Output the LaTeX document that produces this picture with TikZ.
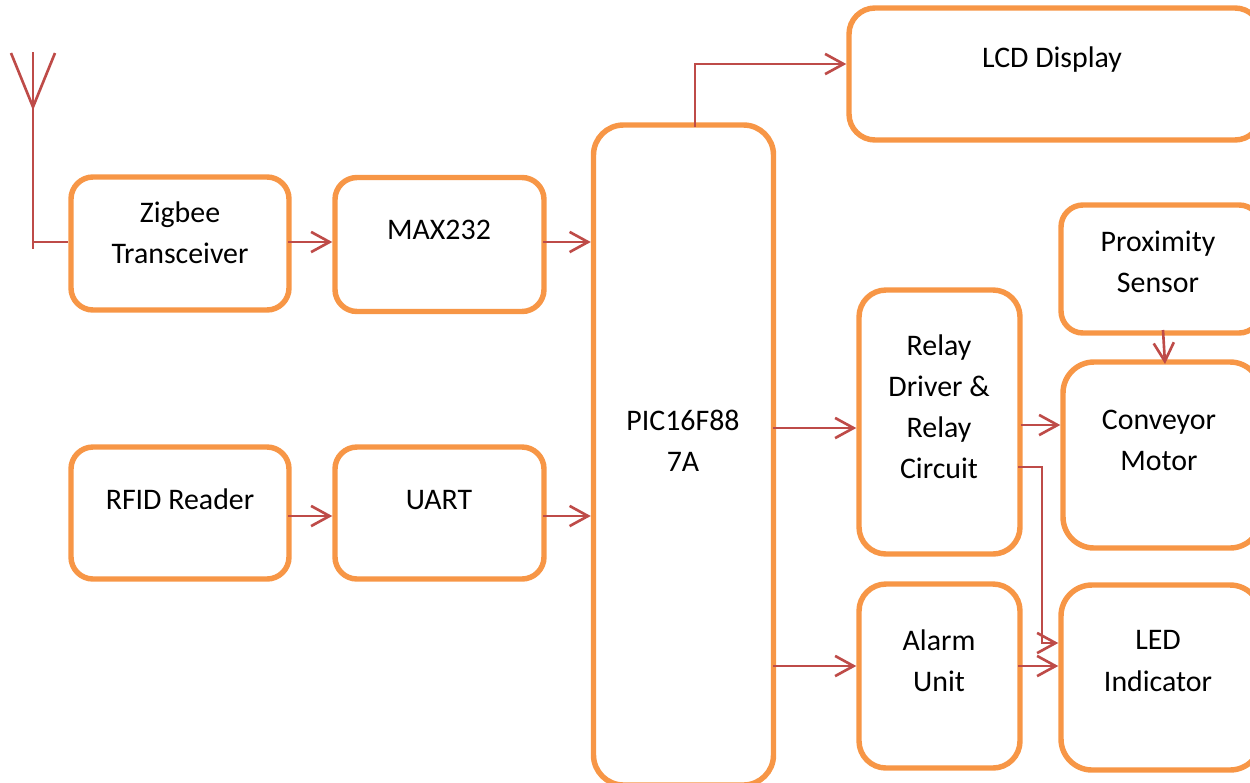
\documentclass[tikz,border=0pt]{standalone}
\usepackage{fontspec}
\setmainfont{Carlito}
\usetikzlibrary{arrows.meta}
\definecolor{boxorange}{HTML}{F79646}
\definecolor{linkred}{HTML}{BE4B48}
\tikzset{
  blockbox/.style n args={3}{draw=boxorange, line width=3.1pt, fill=white,
    minimum width=#1*0.02cm, minimum height=#2*0.02cm, rounded corners=#3*0.02cm},
  blocktext/.style={align=center, font=\fontsize{17}{23.4}\selectfont, text=black, inner sep=0pt},
  link/.style={draw=linkred, line width=1.5pt, -{Straight Barb[length=10.5pt,width=11.5pt]}},
  wire/.style={draw=linkred, line width=1.5pt}
}
\begin{document}
\begin{tikzpicture}[x=0.02cm,y=-0.02cm]
            \clip (0,0) rectangle (1250,782);
            % boxes
            \node[blockbox={218}{133}{22}] (zigbee) at (180,243.5) {};
            \node[blockbox={209}{134}{22}] (max) at (439.5,244.5) {};
            \node[blockbox={218}{132}{22}] (rfid) at (180,513) {};
            \node[blockbox={209}{132}{22}] (uart) at (439.5,513) {};
            \node[blockbox={180}{660}{30}] (pic) at (683.5,455) {};
            \node[blockbox={412}{132}{26}] (lcd) at (1055,74) {};
            \node[blockbox={200}{128}{22}] (prox) at (1161,269) {};
            \node[blockbox={161}{264}{27}] (relay) at (939.5,422) {};
            \node[blockbox={198}{186}{31}] (motor) at (1162,455) {};
            \node[blockbox={161}{184}{27}] (alarm) at (939.5,676) {};
            \node[blockbox={200}{185}{31}] (led) at (1161,677.5) {};
            % labels
            \node[blocktext] (zigbeetext) at (180,233) {Zigbee\\Transceiver};
            \node[blocktext] (maxtext) at (439,230) {MAX232};
            \node[blocktext] (rfidtext) at (180,499) {RFID Reader};
            \node[blocktext] (uarttext) at (439,500) {UART};
            \node[blocktext] (pictext) at (683,441) {PIC16F88\\7A};
            \node[blocktext] (lcdtext) at (1052,60) {LCD Display};
            \node[blocktext] (proxtext) at (1158,262) {Proximity\\Sensor};
            \node[blocktext] (relaytext) at (939,407) {Relay\\Driver \&\\Relay\\Circuit};
            \node[blocktext] (motortext) at (1159,440) {Conveyor\\Motor};
            \node[blocktext] (alarmtext) at (939,661) {Alarm\\Unit};
            \node[blocktext] (ledtext) at (1158,661) {LED\\Indicator};
            % antenna
            \coordinate (anttop) at (33,52);
            \coordinate (antfoot) at (33,249);
            \coordinate (antjoin) at (33,107);
            \coordinate (antleft) at (11,53);
            \coordinate (antright) at (55,53);
            \draw[wire] (anttop) -- (antfoot);
            \draw[wire] (antleft) -- (antjoin) -- (antright);
            \coordinate (antout) at (33,242);
            \draw[wire] (antout) -- (antout -| zigbee.west);
            % connectors
            \coordinate (zigbeeout) at (288,242);
            \draw[link] (zigbeeout) -- (zigbeeout -| max.west);
            \coordinate (maxout) at (543,242);
            \draw[link] (maxout) -- (maxout -| pic.west);
            \coordinate (rfidout) at (288,516);
            \draw[link] (rfidout) -- (rfidout -| uart.west);
            \coordinate (uartout) at (543,516);
            \draw[link] (uartout) -- (uartout -| pic.west);
            \coordinate (picup) at (695,127);
            \coordinate (lcdin) at (695,64);
            \draw[link] (picup) -- (lcdin) -- (lcdin -| lcd.west);
            \coordinate (picrelay) at (773,428);
            \coordinate (picalarm) at (773,666);
            \draw[link] (picrelay) -- (picrelay -| relay.west);
            \draw[link] (picalarm) -- (picalarm -| alarm.west);
            \coordinate (relaymotor) at (1021,425);
            \draw[link] (relaymotor) -- (relaymotor -| motor.west);
            \coordinate (relayled) at (1018,467);
            \coordinate (ledin) at (1042,643);
            \draw[link] (relayled) -| (ledin) -- (ledin -| led.west);
            \coordinate (alarmled) at (1018,666);
            \draw[link] (alarmled) -- (alarmled -| led.west);
            \coordinate (proxout) at (1163,330);
            \coordinate (motorin) at (1165,364);
            \draw[link] (proxout) -- (motorin);
\end{tikzpicture}
\end{document}
